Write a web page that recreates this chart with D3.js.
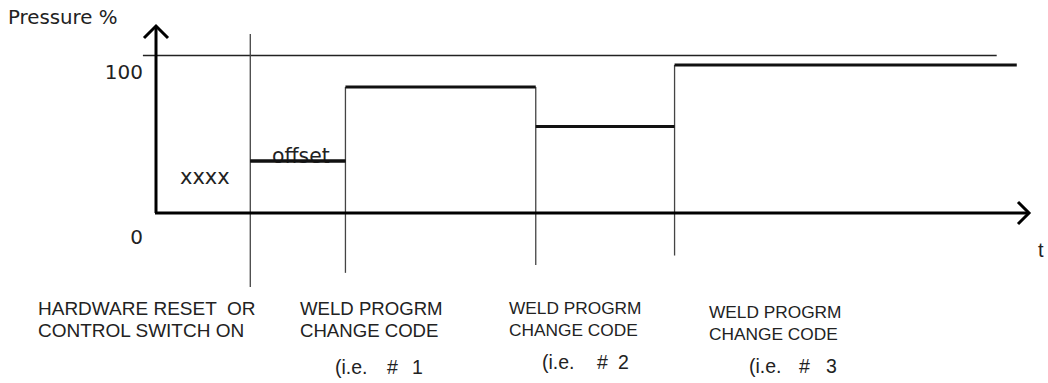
<!DOCTYPE html>
<html>
<head>
<meta charset="utf-8">
<script src="https://cdn.jsdelivr.net/npm/d3@7"></script>
<style>
  body { margin: 0; background: #fff; }
  text { white-space: pre; }
</style>
</head>
<body>
<svg id="chart" width="1048" height="383"></svg>
<script>
// Event times (arbitrary time units) and pressure level (%) set at each event
const eventTimes = [10.8, 21.7, 43.5, 59.4];
const pressureLevels = [33, 80, 55, 94];
const timeEnd = 98.6;
const refLevel = 100;
const eventLabels = [
    ['HARDWARE RESET  OR', 'CONTROL SWITCH ON'],
    ['WELD PROGRM', 'CHANGE CODE'],
    ['WELD PROGRM', 'CHANGE CODE'],
    ['WELD PROGRM', 'CHANGE CODE']
];
const codeNumbers = [null, '1', '2', '3'];
const yTickLabels = ['0', '100'];

const svg = d3.select('#chart');

const x = d3.scaleLinear().domain([0, 100]).range([156, 1029]);
const y = d3.scaleLinear().domain([0, 100]).range([213, 55.5]);

const sansV = 'DejaVu Sans, Verdana, sans-serif';
const sansA = 'Liberation Sans, Arial, sans-serif';

// reference line at 100%
svg.append('line')
    .attr('x1', x(-1.5)).attr('x2', x(96.3))
    .attr('y1', y(refLevel)).attr('y2', y(refLevel))
    .attr('stroke', '#222').attr('stroke-width', 1.3);

// event vertical lines (thin)
const lineTops = [113.6, pressureLevels[1], pressureLevels[1], pressureLevels[3]];
const lineBottoms = [-47, -38, -33, -27];
svg.selectAll('.event-line')
    .data(eventTimes)
    .enter().append('line')
    .attr('class', 'event-line')
    .attr('x1', d => x(d)).attr('x2', d => x(d))
    .attr('y1', (d, i) => y(lineTops[i]))
    .attr('y2', (d, i) => y(lineBottoms[i]))
    .attr('stroke', '#444').attr('stroke-width', 1.3);

// pressure steps (thick)
svg.selectAll('.step')
    .data(pressureLevels)
    .enter().append('line')
    .attr('class', 'step')
    .attr('x1', (d, i) => x(eventTimes[i]))
    .attr('x2', (d, i) => x(i < eventTimes.length - 1 ? eventTimes[i + 1] : timeEnd))
    .attr('y1', d => y(d)).attr('y2', d => y(d))
    .attr('stroke', '#111').attr('stroke-width', 3);

// axes with arrows
const yTop = 118.7;
svg.append('line')
    .attr('x1', x(0)).attr('x2', x(0))
    .attr('y1', y(0)).attr('y2', y(yTop))
    .attr('stroke', '#000').attr('stroke-width', 3);
svg.append('path')
    .attr('d', `M${x(0) - 12},${y(yTop) + 12}L${x(0)},${y(yTop)}L${x(0) + 12},${y(yTop) + 12}`)
    .attr('fill', 'none').attr('stroke', '#000').attr('stroke-width', 3);

svg.append('line')
    .attr('x1', x(0) - 1).attr('x2', x(100))
    .attr('y1', y(0)).attr('y2', y(0))
    .attr('stroke', '#000').attr('stroke-width', 3);
svg.append('path')
    .attr('d', `M${x(100) - 11},${y(0) - 11}L${x(100)},${y(0)}L${x(100) - 11},${y(0) + 11}`)
    .attr('fill', 'none').attr('stroke', '#000').attr('stroke-width', 3);

// axis texts
svg.append('text')
    .attr('x', 8).attr('y', 24)
    .style('font-family', sansV).style('font-size', '19.8px').style('fill', '#222')
    .text('Pressure %');

svg.selectAll('.ytick')
    .data(yTickLabels)
    .enter().append('text')
    .attr('class', 'ytick')
    .attr('x', 143)
    .attr('y', (d, i) => i === 0 ? y(0) + 31 : y(100) + 23)
    .attr('text-anchor', 'end')
    .style('font-family', sansV).style('font-size', '20px').style('fill', '#222')
    .text(d => d);

svg.append('text')
    .attr('x', x(100) + 9).attr('y', y(0) + 44)
    .style('font-family', sansA).style('font-size', '20px').style('fill', '#222')
    .text('t');

svg.append('text')
    .attr('x', 180).attr('y', 184)
    .style('font-family', sansV).style('font-size', '21px').style('fill', '#222')
    .text('xxxx');

svg.append('text')
    .attr('x', 272).attr('y', y(pressureLevels[0]) + 2)
    .style('font-family', sansV).style('font-size', '20.4px').style('fill', '#222')
    .text('offset');
// redraw offset line over the text
svg.append('line')
    .attr('x1', x(eventTimes[0])).attr('x2', x(eventTimes[1]))
    .attr('y1', y(pressureLevels[0])).attr('y2', y(pressureLevels[0]))
    .attr('stroke', '#111').attr('stroke-width', 3);

// event labels below
const labelX = [38, 300, 509, 709];
const labelY = [315, 315, 314, 318];
const labelSize = [19, 18.6, 17.3, 17.3];
const codeX = [0, 335, 542, 749];
const codeY = [0, 374, 369, 373];
const codeHashX = [0, 52, 55, 50];
const codeNumX = [0, 77, 76, 77];

eventLabels.forEach((lines, i) => {
    const t = svg.append('text')
        .attr('x', labelX[i]).attr('y', labelY[i])
        .style('font-family', sansA).style('font-size', labelSize[i] + 'px').style('fill', '#222');
    lines.forEach((ln, j) => {
        t.append('tspan')
            .attr('x', labelX[i])
            .attr('dy', j === 0 ? 0 : 21.5)
            .text(ln);
    });
    if (codeNumbers[i]) {
        const c = svg.append('text')
            .attr('y', codeY[i])
            .style('font-family', sansA).style('font-size', '19.5px').style('fill', '#222');
        c.append('tspan').attr('x', codeX[i]).text('(i.e.');
        c.append('tspan').attr('x', codeX[i] + codeHashX[i]).text('#');
        c.append('tspan').attr('x', codeX[i] + codeNumX[i]).text(codeNumbers[i]);
    }
});
</script>
</body>
</html>
